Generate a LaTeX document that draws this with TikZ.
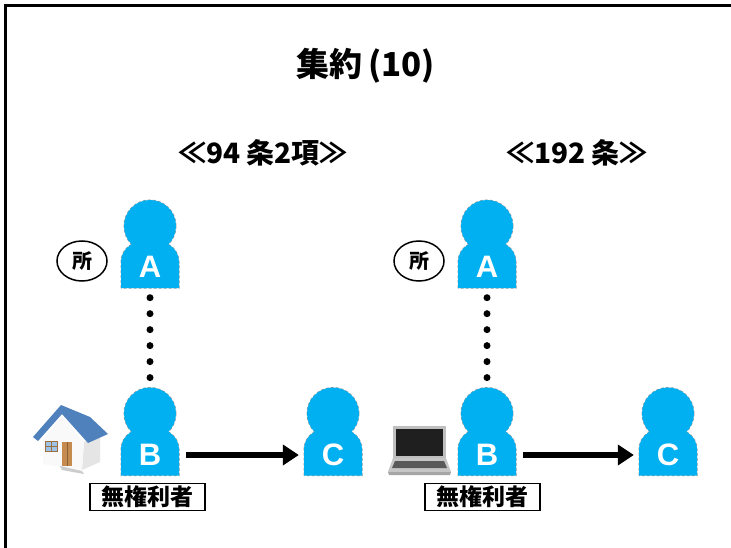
\documentclass[tikz,border=0pt]{standalone}
\usepackage{fontspec}
\setmainfont{Liberation Sans}
\newfontfamily\jp{Noto Sans CJK JP}
\usetikzlibrary{arrows.meta,shapes.geometric,calc}
\definecolor{personblue}{HTML}{00B0F0}
\definecolor{roofblue}{HTML}{4F81BD}
\definecolor{doorbrown}{HTML}{C58A4E}
\definecolor{glassblue}{HTML}{9DC3E6}

\tikzset{
  slot/.style={rectangle, minimum width=58pt, minimum height=88pt, inner sep=0pt},
  letter/.style={text=white, font=\fontsize{31}{31}\selectfont\bfseries, inner sep=0pt},
  ownerbadge/.style={ellipse, draw, line width=1.5pt, minimum width=50pt, minimum height=40pt,
    inner sep=0pt, font=\jp\bfseries\fontsize{20}{20}\selectfont},
  rolebox/.style={rectangle, draw, line width=1.5pt, fill=white, minimum width=115pt,
    minimum height=27pt, inner sep=0pt, font=\jp\bfseries\fontsize{23}{23}\selectfont},
  heading/.style={font=\jp\bfseries\fontsize{28}{28}\selectfont, inner sep=0pt},
  transfer/.style={line width=6pt, -{Triangle[length=16pt,width=20pt]}, shorten <=7pt, shorten >=5pt},
  chain/.style={line width=7pt, line cap=round, dash pattern=on 0pt off 15.98pt, shorten <=9.5pt, shorten >=9pt},
  person/.pic={
    % outline first, then the fill covers its inner half
    \path[draw=black!40, densely dashed, line width=1pt] (0,-18) circle[radius=26];
    \path[draw=black!40, densely dashed, line width=1pt]
      (-29,44) -- (-29,18) .. controls (-29,7) and (-20,-2) .. (-9,-2) -- (9,-2)
      .. controls (20,-2) and (29,7) .. (29,18) -- (29,44) -- cycle;
    \fill[personblue] (0,-18) circle[radius=26];
    \fill[personblue]
      (-29,44) -- (-29,18) .. controls (-29,7) and (-20,-2) .. (-9,-2) -- (9,-2)
      .. controls (20,-2) and (29,7) .. (29,18) -- (29,44) -- cycle;
    \node[letter] at (0,23) {#1};
  }
}

\begin{document}
\begin{tikzpicture}[x=1pt,y=-1pt]
\useasboundingbox (0,0) rectangle (731,548);
\clip (0,0) rectangle (731,548);
\fill[white] (0,0) rectangle (731,548);
\draw[line width=3pt] (5.5,5.5) rectangle (800,620);

% titles
\node[font=\jp\bfseries\fontsize{33}{33}\selectfont, inner sep=0pt] (title) at (366,66) {集約\,(10)};
\node[heading] (art94) at (263,153) {≪94 条2項≫};
\node[heading] (art192) at (577,153) {≪192 条≫};

% ---------- left: art. 94(2) ----------
\node[slot] (A1) at (150,244) {};
\node[slot] (B1) at (150,431.5) {};
\node[slot] (C1) at (333,431.5) {};
\pic at (A1) {person=A};
\pic at (B1) {person=B};
\pic at (C1) {person=C};
\node[ownerbadge] (S1) at (82,261) {所};
\node[rolebox] (L1) at (147.5,497) {無権利者};
\draw[chain] (A1.south) -- (B1.north);
\draw[transfer] ($(B1.east)+(0,23.5)$) -- ($(C1.west)+(0,23.5)$);

% house
\fill[gray!20] (84,442) -- (100,435) -- (100,462) -- (82,470) -- cycle;
\fill[gray!5] (43,440) -- (62,416) -- (84,442) -- (82,470) -- (43,464) -- cycle;
\fill[gray!40] (60,466) -- (82,471) -- (84,474) -- (62,470) -- cycle;
\fill[roofblue] (33,437) -- (61,405) -- (90,417) -- (108,434) -- (88,443) -- (62,414) -- (38,441) -- cycle;
\draw[doorbrown!80!black, line width=0.8pt, fill=glassblue] (45,441) rectangle (57,451);
\draw[doorbrown!80!black, line width=0.5pt] (51,441) -- (51,451) (45,446) -- (57,446);
\fill[doorbrown] (62,442) rectangle (72,466);
\draw[doorbrown!70!black, line width=0.5pt] (67,442) -- (67,466);

% ---------- right: art. 192 ----------
\node[slot] (A2) at (487,244) {};
\node[slot] (B2) at (487,431.5) {};
\node[slot] (C2) at (668,431.5) {};
\pic at (A2) {person=A};
\pic at (B2) {person=B};
\pic at (C2) {person=C};
\node[ownerbadge] (S2) at (419,261) {所};
\node[rolebox] (L2) at (482.5,497) {無権利者};
\draw[chain] (A2.south) -- (B2.north);
\draw[transfer] ($(B2.east)+(0,23.5)$) -- ($(C2.west)+(0,23.5)$);

% laptop
\fill[gray!50] (393,426) rectangle (446,458);
\fill[black!88] (396,429) rectangle (443,456);
\fill[gray!45] (393,458) -- (446,458) -- (451,472) -- (388,472) -- cycle;
\fill[black!65] (395,461) -- (444,461) -- (447,468) -- (392,468) -- cycle;
\fill[gray!70] (388,472) -- (451,472) -- (450,475) -- (389,475) -- cycle;
\end{tikzpicture}
\end{document}
